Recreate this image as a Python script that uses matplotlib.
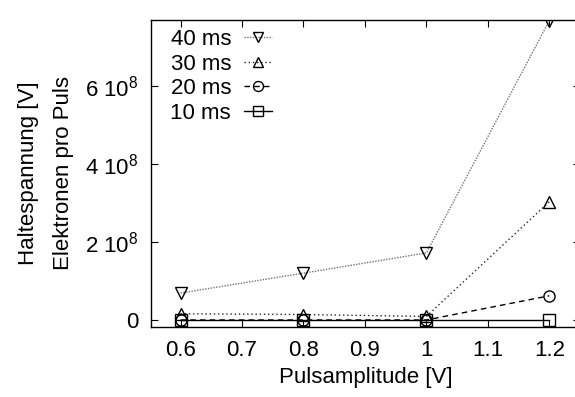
import matplotlib
matplotlib.use("Agg")
import matplotlib.pyplot as plt
from matplotlib.ticker import FixedLocator

plt.rcParams['font.family'] = ['Liberation Sans', 'DejaVu Sans']
plt.rcParams['mathtext.default'] = 'regular'

x = [0.6, 0.8, 1.0, 1.2]
labels = ["40 ms", "30 ms", "20 ms", "10 ms"]
s40 = [6.9e7, 1.2e8, 1.72e8, 7.67e8]
s30 = [1.6e7, 1.4e7, 0.9e7, 3.03e8]
s20 = [0.0, 0.0, 0.0, 6.2e7]
s10 = [0.0, 0.0, 0.0, 0.0]
series = [s40, s30, s20, s10]
markers = ["v", "^", "o", "s"]
styles = [(0, (1, 1)), (0, (1, 2)), (0, (4, 3)), "-"]
colors = ["0.45", "0.15", "0.0", "0.0"]
yticks = [0, 2e8, 4e8, 6e8]
ytick_labels = ["0", "2 10$^8$", "4 10$^8$", "6 10$^8$"]
xticks = [0.6, 0.7, 0.8, 0.9, 1.0, 1.1, 1.2]
xtick_labels = ["0.6", "0.7", "0.8", "0.9", "1", "1.1", "1.2"]

fig = plt.figure(figsize=(5.75, 3.97), dpi=100)
ax = fig.add_axes([151/575, 1 - 327/397, (580-151)/575, (327-20)/397])

for ys, lab, m, ls, c in zip(series, labels, markers, styles, colors):
    ax.plot(x, ys, linestyle=ls, color=c, lw=1.0, marker=m, markersize=8,
            markerfacecolor='none', markeredgecolor='black', markeredgewidth=1.0,
            label=lab)

ax.set_xlim(0.552, 1.25)
ax.set_ylim(-1.8e7, 7.69e8)
ax.xaxis.set_major_locator(FixedLocator(xticks))
ax.set_xticklabels(xtick_labels)
ax.yaxis.set_major_locator(FixedLocator(yticks))
ax.set_yticklabels(ytick_labels)
ax.tick_params(direction='in', top=True, right=True, labelsize=16, length=5, width=0.8, pad=9)
for sp in ax.spines.values():
    sp.set_linewidth(1.0)

ax.set_xlabel("Pulsamplitude [V]", fontsize=16, labelpad=5)
ax.set_ylabel("Haltespannung [V]\nElektronen pro Puls", fontsize=16, labelpad=8, linespacing=1.85)

leg = ax.legend(loc='upper left', frameon=False, markerfirst=False, fontsize=16,
                handlelength=1.25, labelspacing=0.16, borderaxespad=0.0,
                bbox_to_anchor=(0.035, 0.985), handletextpad=0.6, markerscale=0.9,
                borderpad=0.2)

fig.savefig("out.png", dpi=100)
